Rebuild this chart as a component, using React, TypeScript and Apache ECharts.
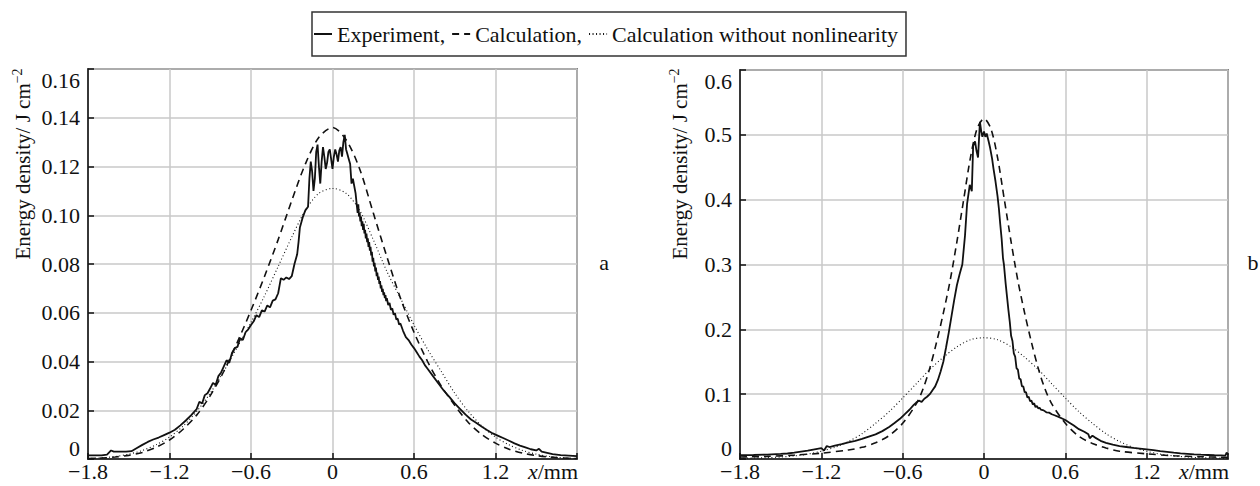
import React, { useEffect, useRef } from "react";
import * as echarts from "echarts";

const FONT = "Liberation Serif";

const XS = [
  -1.8, -1.7, -1.6, -1.5, -1.4, -1.3, -1.2, -1.1, -1.0, -0.9, -0.8, -0.7, -0.6, -0.5, -0.4, -0.3, -0.2, -0.1,
  0, 0.1, 0.2, 0.3, 0.4, 0.5, 0.6, 0.7, 0.8, 0.9, 1.0, 1.1, 1.2, 1.3, 1.4, 1.5, 1.6, 1.7, 1.8,
];

// Panel a: calculation (dashed)
const CALC_A = [
  0.0002, 0.0004, 0.0008, 0.0015, 0.0027, 0.0048, 0.0078, 0.0122, 0.018, 0.026, 0.036, 0.048, 0.061, 0.075, 0.09, 0.106, 0.121, 0.132,
  0.136, 0.131, 0.119, 0.101, 0.083, 0.066, 0.052, 0.04, 0.03, 0.022, 0.015, 0.01, 0.0065, 0.004, 0.0024, 0.0014, 0.0008, 0.0004, 0.0002,
];

// Panel a: calculation without nonlinearity (dotted)
const LIN_A = [
  0.0002, 0.0005, 0.001, 0.002, 0.0035, 0.0058, 0.009, 0.0135, 0.0195, 0.027, 0.036, 0.046, 0.056, 0.067, 0.079, 0.091, 0.102, 0.109,
  0.111, 0.109, 0.102, 0.09, 0.077, 0.066, 0.055, 0.045, 0.036, 0.027, 0.0195, 0.0135, 0.009, 0.0058, 0.0035, 0.002, 0.001, 0.0005, 0.0002,
];

// Panel a: experiment (solid)
const EXP_A: [number, number][] = [
  [-1.8, 0.0015], [-1.75, 0.0015], [-1.7, 0.0015], [-1.66, 0.0018], [-1.63, 0.0035], [-1.61, 0.003], [-1.58, 0.003],
  [-1.52, 0.003], [-1.48, 0.0032], [-1.44, 0.0045], [-1.4, 0.0058], [-1.36, 0.007], [-1.32, 0.008], [-1.28, 0.0088],
  [-1.24, 0.0098], [-1.2, 0.0108], [-1.16, 0.012], [-1.12, 0.0138], [-1.08, 0.0158], [-1.04, 0.018], [-1.0, 0.0205],
  [-0.98, 0.0235], [-0.96, 0.0228], [-0.94, 0.0262], [-0.92, 0.027], [-0.9, 0.029], [-0.88, 0.0312], [-0.86, 0.0305],
  [-0.84, 0.034], [-0.82, 0.0355], [-0.8, 0.038], [-0.78, 0.0405], [-0.76, 0.0395], [-0.74, 0.0435], [-0.72, 0.0455],
  [-0.7, 0.046], [-0.68, 0.0495], [-0.66, 0.0488], [-0.64, 0.052], [-0.62, 0.0532], [-0.6, 0.055], [-0.58, 0.0565],
  [-0.56, 0.059], [-0.54, 0.0582], [-0.52, 0.061], [-0.5, 0.0605], [-0.48, 0.063], [-0.46, 0.0622], [-0.44, 0.065],
  [-0.42, 0.0655], [-0.4, 0.068], [-0.38, 0.0742], [-0.36, 0.0735], [-0.34, 0.0745], [-0.32, 0.0738], [-0.3, 0.075],
  [-0.28, 0.08], [-0.26, 0.084], [-0.25, 0.089], [-0.24, 0.095], [-0.22, 0.099], [-0.2, 0.102], [-0.18, 0.1035],
  [-0.17, 0.115], [-0.16, 0.122], [-0.15, 0.118], [-0.14, 0.11], [-0.13, 0.115], [-0.12, 0.126], [-0.11, 0.129],
  [-0.1, 0.12], [-0.09, 0.113], [-0.08, 0.122], [-0.07, 0.128], [-0.06, 0.124], [-0.05, 0.119], [-0.04, 0.1215],
  [-0.03, 0.126], [-0.02, 0.127], [-0.01, 0.123], [0.0, 0.119], [0.01, 0.124], [0.02, 0.127], [0.03, 0.125],
  [0.04, 0.122], [0.05, 0.1265], [0.06, 0.128], [0.07, 0.124], [0.08, 0.13], [0.09, 0.133], [0.1, 0.127],
  [0.11, 0.125], [0.12, 0.123], [0.13, 0.121], [0.14, 0.113], [0.15, 0.115], [0.16, 0.112], [0.17, 0.109],
  [0.18, 0.1035], [0.185, 0.101], [0.19, 0.1045], [0.195, 0.0995], [0.2, 0.101], [0.205, 0.0975], [0.21, 0.0995],
  [0.215, 0.0955], [0.22, 0.0975], [0.225, 0.094], [0.23, 0.0965], [0.235, 0.0925], [0.24, 0.094], [0.245, 0.0905],
  [0.25, 0.0925], [0.255, 0.089], [0.26, 0.0905], [0.265, 0.087], [0.27, 0.089], [0.275, 0.0855], [0.28, 0.087],
  [0.285, 0.0835], [0.29, 0.085], [0.295, 0.081], [0.3, 0.0825], [0.305, 0.079], [0.31, 0.0805], [0.315, 0.077],
  [0.32, 0.0785], [0.325, 0.075], [0.33, 0.0765], [0.335, 0.0735], [0.34, 0.0748], [0.345, 0.0718], [0.35, 0.073],
  [0.355, 0.07], [0.36, 0.0712], [0.365, 0.0685], [0.37, 0.0698], [0.375, 0.0672], [0.38, 0.0684], [0.385, 0.066],
  [0.39, 0.0672], [0.395, 0.0648], [0.4, 0.066], [0.41, 0.0632], [0.42, 0.064], [0.43, 0.0612], [0.44, 0.0618],
  [0.45, 0.0592], [0.46, 0.0598], [0.47, 0.0572], [0.48, 0.0576], [0.49, 0.0552], [0.5, 0.0556], [0.52, 0.0525],
  [0.54, 0.05], [0.56, 0.0488], [0.58, 0.047], [0.6, 0.0455], [0.62, 0.0438], [0.64, 0.042],
  [0.66, 0.0405], [0.68, 0.0385], [0.7, 0.037], [0.74, 0.034], [0.78, 0.031], [0.82, 0.028], [0.86, 0.0255],
  [0.9, 0.0228], [0.94, 0.0205], [0.98, 0.0182], [1.02, 0.0162], [1.06, 0.0148], [1.1, 0.0132], [1.14, 0.0118],
  [1.18, 0.0105], [1.22, 0.0095], [1.26, 0.0085], [1.3, 0.0075], [1.34, 0.0064], [1.38, 0.0055], [1.42, 0.0048],
  [1.46, 0.004], [1.5, 0.0035], [1.52, 0.0042], [1.54, 0.003], [1.58, 0.0025], [1.62, 0.002], [1.68, 0.0016],
  [1.74, 0.0014], [1.8, 0.0012],
];

// Panel b: calculation (dashed)
const CALC_B_X = [
  -1.8, -1.6, -1.4, -1.2, -1.0, -0.9, -0.8, -0.7, -0.6, -0.5, -0.45, -0.4, -0.35, -0.3, -0.25, -0.2, -0.15, -0.1, -0.05,
  0, 0.05, 0.1, 0.15, 0.2, 0.25, 0.3, 0.35, 0.4, 0.45, 0.5, 0.6, 0.7, 0.8, 0.9, 1.0, 1.2, 1.4, 1.6, 1.8,
];
const CALC_B = [
  0.003, 0.004, 0.006, 0.009, 0.014, 0.018, 0.025, 0.036, 0.055, 0.085, 0.108, 0.14, 0.18, 0.225, 0.275, 0.335, 0.4, 0.465, 0.51,
  0.525, 0.51, 0.465, 0.4, 0.335, 0.275, 0.225, 0.18, 0.14, 0.108, 0.085, 0.055, 0.035, 0.024, 0.017, 0.012, 0.008, 0.005, 0.0035, 0.0025,
];

// Panel b: calculation without nonlinearity (dotted)
const LIN_B = [
  0.001, 0.0015, 0.002, 0.003, 0.0048, 0.0075, 0.012, 0.018, 0.027, 0.039, 0.055, 0.073, 0.094, 0.116, 0.138, 0.157, 0.173, 0.184,
  0.187, 0.184, 0.173, 0.157, 0.138, 0.116, 0.094, 0.073, 0.055, 0.039, 0.027, 0.018, 0.012, 0.0075, 0.0048, 0.003, 0.002, 0.0015, 0.001,
];

// Panel b: experiment (solid)
const EXP_B: [number, number][] = [
  [-1.8, 0.006], [-1.7, 0.0062], [-1.6, 0.0068], [-1.5, 0.0078], [-1.45, 0.0085], [-1.4, 0.0098], [-1.35, 0.0115],
  [-1.3, 0.013], [-1.25, 0.015], [-1.2, 0.0168], [-1.18, 0.013], [-1.16, 0.02], [-1.14, 0.0185], [-1.1, 0.0205],
  [-1.05, 0.0228], [-1.0, 0.0255], [-0.95, 0.028], [-0.9, 0.031], [-0.85, 0.0345], [-0.8, 0.038], [-0.75, 0.043],
  [-0.7, 0.0495], [-0.66, 0.0555], [-0.62, 0.062], [-0.58, 0.07], [-0.55, 0.076], [-0.52, 0.083], [-0.5, 0.087],
  [-0.48, 0.09], [-0.46, 0.088], [-0.44, 0.093], [-0.42, 0.096], [-0.4, 0.1], [-0.38, 0.106], [-0.36, 0.112],
  [-0.34, 0.122], [-0.32, 0.135], [-0.3, 0.15], [-0.28, 0.172], [-0.26, 0.195], [-0.24, 0.22], [-0.22, 0.245],
  [-0.2, 0.268], [-0.18, 0.285], [-0.16, 0.3], [-0.14, 0.345], [-0.125, 0.393], [-0.105, 0.423], [-0.09, 0.413],
  [-0.08, 0.483], [-0.066, 0.49], [-0.055, 0.475], [-0.044, 0.465], [-0.03, 0.52], [-0.02, 0.505], [-0.012, 0.497],
  [0.0, 0.505], [0.01, 0.497], [0.02, 0.502], [0.034, 0.49], [0.045, 0.48], [0.06, 0.463], [0.07, 0.448],
  [0.085, 0.428], [0.1, 0.405], [0.11, 0.386], [0.12, 0.362], [0.13, 0.34], [0.14, 0.31], [0.147, 0.3],
  [0.16, 0.27], [0.17, 0.25], [0.18, 0.23], [0.19, 0.212], [0.2, 0.19], [0.21, 0.182], [0.22, 0.163],
  [0.23, 0.158], [0.24, 0.14], [0.25, 0.138], [0.26, 0.124], [0.27, 0.123], [0.28, 0.112], [0.29, 0.112],
  [0.3, 0.103], [0.31, 0.103], [0.32, 0.095], [0.33, 0.096], [0.34, 0.089], [0.35, 0.09], [0.36, 0.084],
  [0.37, 0.086], [0.38, 0.08], [0.39, 0.082], [0.4, 0.078], [0.41, 0.079], [0.42, 0.076], [0.44, 0.075],
  [0.46, 0.072], [0.48, 0.0715], [0.5, 0.069], [0.52, 0.0675], [0.55, 0.065], [0.58, 0.062], [0.6, 0.06],
  [0.63, 0.056], [0.66, 0.052], [0.7, 0.046], [0.74, 0.042], [0.77, 0.038], [0.78, 0.032], [0.8, 0.036],
  [0.82, 0.033], [0.86, 0.028], [0.9, 0.025], [0.95, 0.022], [1.0, 0.02], [1.05, 0.0185], [1.1, 0.017],
  [1.15, 0.016], [1.2, 0.015], [1.25, 0.0138], [1.3, 0.0122], [1.35, 0.011], [1.4, 0.0098], [1.45, 0.0088],
  [1.5, 0.008], [1.55, 0.0072], [1.6, 0.0066], [1.65, 0.0062], [1.7, 0.0058], [1.75, 0.0056], [1.78, 0.0052],
  [1.79, 0.01], [1.8, 0.006],
];

const NAMES = ["Experiment", "Calculation", "Calculation without nonlinearity"];
const PANEL_LABELS = ["a", "b"];
const Y_NAME = "Energy density/ J cm";
const Y_SUP = "−2";
const X_NAME = "/mm";

const GRIDS = [
  { left: 88, top: 69, width: 489, height: 390 },
  { left: 740, top: 70, width: 488, height: 389 },
];

function fmtX(v: number): string {
  if (Math.abs(v - 1.8) < 1e-6) return "";
  if (Math.abs(v) < 1e-6) return "0";
  return (v < 0 ? "−" : "") + Math.abs(v).toFixed(1);
}

export default function App() {
  const ref = useRef<HTMLDivElement>(null);

  useEffect(() => {
    if (!ref.current) return;
    const chart = echarts.init(ref.current, null, { renderer: "svg" });
    const black = "#111";
    const textStyle = { color: black, fontFamily: FONT, fontSize: 22 };

    const xAxisBase = (gi: number) => ({
      type: "value",
      gridIndex: gi,
      min: -1.8,
      max: 1.8,
      interval: 0.6,
      axisLine: { show: true, onZero: false, lineStyle: { color: black, width: 1.5 } },
      axisTick: { show: true, inside: true, length: 6, lineStyle: { color: black, width: 1.5 } },
      axisLabel: { ...textStyle, margin: 1, formatter: fmtX, showMinLabel: true, showMaxLabel: true },
      splitLine: { show: true, lineStyle: { color: "#c8c8c8", width: 1.5 } },
    });
    const yAxisBase = (gi: number, max: number, interval: number, digits: number) => ({
      type: "value",
      gridIndex: gi,
      min: 0,
      max,
      interval,
      axisLine: { show: true, onZero: false, lineStyle: { color: black, width: 1.5 } },
      axisTick: { show: true, inside: true, length: 6, lineStyle: { color: black, width: 1.5 } },
      axisLabel: {
        ...textStyle,
        margin: 8,
        verticalAlignMinLabel: "bottom",
        verticalAlignMaxLabel: "top",
        formatter: (v: number) => (Math.abs(v) < 1e-9 ? "0" : v.toFixed(digits)),
      },
      splitLine: { show: true, lineStyle: { color: "#c8c8c8", width: 1.5 } },
    });

    const styles = [
      { type: "solid", width: 1.8 },
      { type: [7, 5], width: 1.6 },
      { type: [1, 2.5], width: 1.1 },
    ];

    const mk = (name: string, gi: number, data: any[], si: number, smooth: any) => ({
      name,
      type: "line",
      xAxisIndex: gi,
      yAxisIndex: gi,
      data,
      symbol: "none",
      showSymbol: false,
      smooth,
      z: 10 - si,
      itemStyle: { color: black },
      lineStyle: { color: black, ...styles[si] },
    });

    const series = [
      mk(NAMES[0], 0, EXP_A, 0, false),
      mk(NAMES[1], 0, XS.map((x, i) => [x, CALC_A[i]]), 1, 0.3),
      mk(NAMES[2], 0, XS.map((x, i) => [x, LIN_A[i]]), 2, 0.3),
      mk(NAMES[0], 1, EXP_B, 0, false),
      mk(NAMES[1], 1, CALC_B_X.map((x, i) => [x, CALC_B[i]]), 1, 0.3),
      mk(NAMES[2], 1, XS.map((x, i) => [x, LIN_B[i]]), 2, 0.3),
    ];

    const yNameText = (x: number) => ({
      type: "text",
      x,
      y: 164,
      rotation: Math.PI / 2,
      style: {
        text: `{n|${Y_NAME}}{s|${Y_SUP}}`,
        align: "center",
        verticalAlign: "middle",
        fill: black,
        rich: {
          n: { fontFamily: FONT, fontSize: 21, lineHeight: 26, fill: black },
          s: { fontFamily: FONT, fontSize: 14, lineHeight: 14, verticalAlign: "top", fill: black },
        },
      },
    });
    const xNameText = (x: number) => ({
      type: "text",
      x,
      y: 460,
      style: {
        text: `{i|x}{n|${X_NAME}}`,
        align: "right",
        verticalAlign: "top",
        fill: black,
        rich: {
          i: { fontFamily: FONT, fontSize: 22, fontStyle: "italic", fill: black },
          n: { fontFamily: FONT, fontSize: 22, fill: black },
        },
      },
    });

    chart.setOption({
      animation: false,
      backgroundColor: "#fff",
      textStyle: { fontFamily: FONT, color: black },
      legend: {
        show: true,
        left: 312,
        top: 12,
        orient: "horizontal",
        data: NAMES,
        padding: [11, 8, 11, 1],
        itemGap: 6,
        itemWidth: 18,
        itemHeight: 14,
        itemStyle: { opacity: 0, borderWidth: 0 },
        borderColor: "#333",
        borderWidth: 1.5,
        borderRadius: 0,
        textStyle: { color: black, fontFamily: FONT, fontSize: 22 },
        formatter: (n: string) => (n === NAMES[2] ? n : n + ","),
        selectedMode: false,
      },
      grid: GRIDS.map((g) => ({
        ...g,
        show: true,
        borderColor: "#222",
        borderWidth: 1.5,
        backgroundColor: "transparent",
        containLabel: false,
        outerBoundsMode: "none",
      })),
      xAxis: [xAxisBase(0), xAxisBase(1)],
      yAxis: [yAxisBase(0, 0.16, 0.02, 2), yAxisBase(1, 0.6, 0.1, 1)],
      series,
      graphic: [
        yNameText(23),
        yNameText(680),
        xNameText(578),
        xNameText(1229),
        {
          type: "text",
          x: 604,
          y: 262,
          style: { text: PANEL_LABELS[0], align: "center", verticalAlign: "middle", fontFamily: FONT, fontSize: 22, fill: black },
        },
        {
          type: "text",
          x: 1253,
          y: 262,
          style: { text: PANEL_LABELS[1], align: "center", verticalAlign: "middle", fontFamily: FONT, fontSize: 22, fill: black },
        },
      ],
    });

    return () => chart.dispose();
  }, []);

  return (
    <div
      ref={ref}
      style={{ position: "fixed", left: 0, top: 0, width: 1260, height: 486, background: "#fff" }}
    />
  );
}
